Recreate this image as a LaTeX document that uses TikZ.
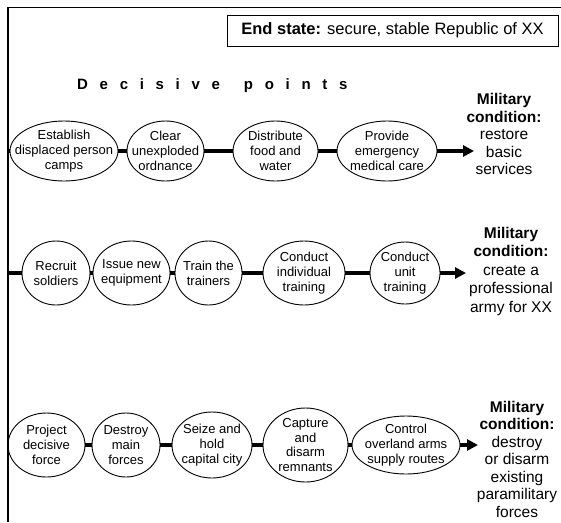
\documentclass[tikz,border=0pt]{standalone}
\usepackage{fontspec}
\setmainfont{Liberation Sans}
\usetikzlibrary{shapes.geometric,arrows.meta}
\begin{document}
\begin{tikzpicture}[x=1pt,y=-1pt,
  dpt/.style={ellipse,draw,line width=0.9pt,inner sep=-25pt,align=center,
    font=\fontsize{13}{14.8}\selectfont},
  link/.style={line width=3.2pt},
  arr/.style={line width=3.2pt,-{Triangle[length=11pt,width=11pt]}},
  mc/.style={align=center,font=\fontsize{15.5}{17.5}\selectfont}]
\useasboundingbox (0,0) rectangle (561,522);
% frame
\coordinate (ftr) at (561,7.5);
\coordinate (ftl) at (8,7.5);
\coordinate (fbl) at (8,522);
\draw[line width=1.5pt] (ftr) -- (ftl) -- (fbl);
% end state
\node[draw,line width=1pt,minimum width=331pt,minimum height=31pt,inner sep=0pt,
  font=\fontsize{16.5}{19}\selectfont] (es) at (392.5,30.5)
  {\textbf{End state:} secure, stable Republic of XX};
% decisive points
\node[anchor=base west,inner sep=0pt,
  font=\bfseries\fontsize{15}{17}\selectfont\addfontfeature{LetterSpace=78}]
  (dp) at (77,89) {Decisive\hspace*{24pt}points};
% ---------- row 1
\node[dpt,minimum width=108pt,minimum height=60pt] (a1) at (64,151) {Establish\\displaced person\\camps};
\node[dpt,minimum width=77pt,minimum height=60pt] (a2) at (165.5,151) {Clear\\unexploded\\ordnance};
\node[dpt,minimum width=85pt,minimum height=60pt] (a3) at (275.5,151) {Distribute\\food and\\water};
\node[dpt,minimum width=100pt,minimum height=60pt] (a4) at (387,151) {Provide\\emergency\\medical care};
\coordinate (a0) at (8,151);
\coordinate (ae) at (474,151);
\draw[link] (a0) -- (a1);
\draw[link] (a1) -- (a2);
\draw[link] (a2) -- (a3);
\draw[link] (a3) -- (a4);
\draw[arr] (a4) -- (ae);
\node[mc] (am) at (504,134) {\textbf{Military}\\\textbf{condition:}\\restore\\basic\\services};
% ---------- row 2
\node[dpt,minimum width=68pt,minimum height=64pt] (b1) at (56,273) {Recruit\\soldiers};
\node[dpt,minimum width=77pt,minimum height=64pt] (b2) at (131.5,273) {Issue new\\equipment};
\node[dpt,minimum width=67pt,minimum height=64pt] (b3) at (208.5,273) {Train the\\trainers};
\node[dpt,minimum width=82pt,minimum height=64pt] (b4) at (304,273) {Conduct\\individual\\training};
\node[dpt,minimum width=70pt,minimum height=62pt] (b5) at (405,273) {Conduct\\unit\\training};
\coordinate (b0) at (8,273);
\coordinate (be) at (466,273);
\draw[link] (b0) -- (b1);
\draw[link] (b1) -- (b2);
\draw[link] (b2) -- (b3);
\draw[link] (b3) -- (b4);
\draw[link] (b4) -- (b5);
\draw[arr] (b5) -- (be);
\node[mc,font=\fontsize{15.5}{18.5}\selectfont] (bm) at (511,271) {\textbf{Military}\\\textbf{condition:}\\create a\\professional\\army for XX};
% ---------- row 3
\node[dpt,minimum width=77pt,minimum height=64pt] (c1) at (46.5,445) {Project\\decisive\\force};
\node[dpt,minimum width=68pt,minimum height=64pt] (c2) at (126,445) {Destroy\\main\\forces};
\node[dpt,minimum width=80pt,minimum height=66pt] (c3) at (212,445) {Seize and\\hold\\capital city};
\node[dpt,minimum width=85pt,minimum height=74pt] (c4) at (305.5,445) {Capture\\and\\disarm\\remnants};
\node[dpt,minimum width=108pt,minimum height=58pt] (c5) at (406,445) {Control\\overland arms\\supply routes};
\coordinate (ce) at (478,445);
\draw[link] (c1) -- (c2);
\draw[link] (c2) -- (c3);
\draw[link] (c3) -- (c4);
\draw[link] (c4) -- (c5);
\draw[arr] (c5) -- (ce);
\node[mc] (cm) at (517,459) {\textbf{Military}\\\textbf{condition:}\\destroy\\or disarm\\existing\\paramilitary\\forces};
\end{tikzpicture}
\end{document}
